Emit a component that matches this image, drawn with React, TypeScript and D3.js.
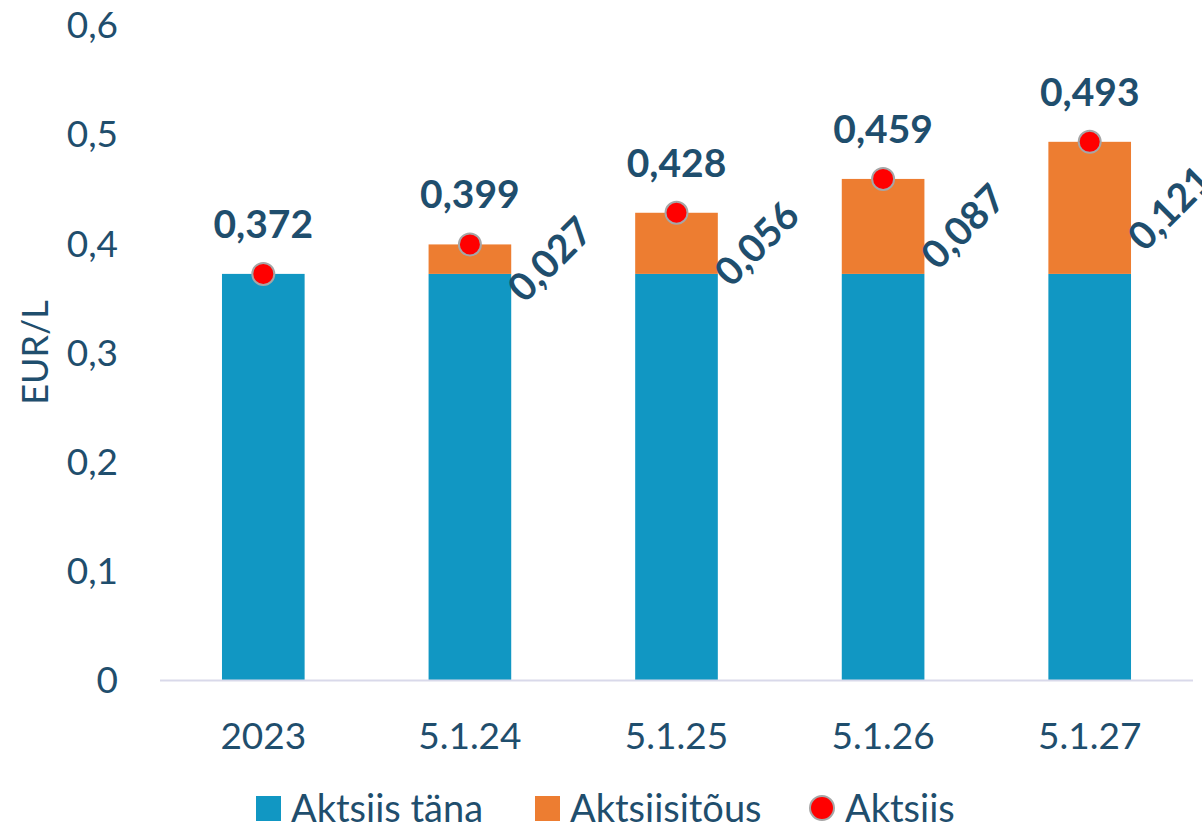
import React from "react";
import * as d3 from "d3";

const categories = ["2023", "5.1.24", "5.1.25", "5.1.26", "5.1.27"];
const baseValues = [0.372, 0.372, 0.372, 0.372, 0.372];
const increaseValues = [0, 0.027, 0.056, 0.087, 0.121];
const totalValues = [0.372, 0.399, 0.428, 0.459, 0.493];
const increaseLabels = ["", "0,027", "0,056", "0,087", "0,121"];
const totalLabels = ["0,372", "0,399", "0,428", "0,459", "0,493"];
const yTicks = [0, 0.1, 0.2, 0.3, 0.4, 0.5, 0.6];
const legendItems = ["Aktsiis täna", "Aktsiisitõus", "Aktsiis"];

const W = 1202;
const H = 825;
const FONT = "Lato, 'Open Sans', sans-serif";
const TEXT = "#1F4E6D";
const BLUE = "#1197C3";
const ORANGE = "#ED7D31";

export default function App() {
  const x = d3.scaleBand<string>().domain(categories).range([160, 1193]).padding(0);
  const y = d3.scaleLinear().domain([0, 0.6]).range([680, 25]);
  const bw = x.bandwidth() * 0.4;
  const fmt = (v: number) => (v === 0 ? "0" : d3.format(".1f")(v).replace(".", ","));

  return (
    <svg width={W} height={H} style={{ position: "absolute", left: 0, top: 0, background: "#fff" }}>
      {yTicks.map((t) => (
        <text key={t} x={118} y={y(t)} dy="0.36em" textAnchor="end" fontFamily={FONT} fontSize={37} fill={TEXT}>
          {fmt(t)}
        </text>
      ))}
      <text
        transform={`translate(48,${y(0.3)}) rotate(-90)`}
        textAnchor="middle"
        fontFamily={FONT}
        fontSize={36}
        fill={TEXT}
      >
        EUR/L
      </text>
      {categories.map((c, i) => {
        const cx = (x(c) as number) + x.bandwidth() / 2;
        return (
          <g key={c}>
            <rect x={cx - bw / 2} y={y(baseValues[i])} width={bw} height={y(0) - y(baseValues[i])} fill={BLUE} />
            {increaseValues[i] > 0 && (
              <rect
                x={cx - bw / 2}
                y={y(baseValues[i] + increaseValues[i])}
                width={bw}
                height={y(baseValues[i]) - y(baseValues[i] + increaseValues[i])}
                fill={ORANGE}
              />
            )}
          </g>
        );
      })}
      <line x1={160} x2={1193} y1={y(0) + 0.5} y2={y(0) + 0.5} stroke="#D9D9EA" strokeWidth={2} />
      {categories.map((c) => (
        <text
          key={c}
          x={(x(c) as number) + x.bandwidth() / 2}
          y={749}
          textAnchor="middle"
          fontFamily={FONT}
          fontSize={37}
          fill={TEXT}
        >
          {c}
        </text>
      ))}
      {categories.map((c, i) => {
        const cx = (x(c) as number) + x.bandwidth() / 2;
        return (
          <g key={c}>
            <circle cx={cx} cy={y(totalValues[i])} r={11} fill="#FF0000" stroke="#A6A6A6" strokeWidth={2} />
            <text
              x={cx}
              y={y(totalValues[i]) - 36}
              textAnchor="middle"
              fontFamily={FONT}
              fontWeight="bold"
              fontSize={39}
              fill={TEXT}
            >
              {totalLabels[i]}
            </text>
            {increaseValues[i] > 0 && (
              <text
                transform={`translate(${cx + 80},${y(baseValues[i] + increaseValues[i] / 2)}) rotate(-45)`}
                textAnchor="middle"
                dy="0.36em"
                fontFamily={FONT}
                fontWeight="bold"
                fontSize={39}
                fill={TEXT}
              >
                {increaseLabels[i]}
              </text>
            )}
          </g>
        );
      })}
      <g>
        <rect x={256} y={796} width={25} height={25} fill={BLUE} />
        <text x={291} y={808} dy="0.36em" fontFamily={FONT} fontSize={38} fill={TEXT}>
          {legendItems[0]}
        </text>
        <rect x={535} y={796} width={25} height={25} fill={ORANGE} />
        <text x={570} y={808} dy="0.36em" fontFamily={FONT} fontSize={38} fill={TEXT}>
          {legendItems[1]}
        </text>
        <circle cx={822} cy={808} r={12} fill="#FF0000" stroke="#A6A6A6" strokeWidth={2} />
        <text x={845} y={808} dy="0.36em" fontFamily={FONT} fontSize={38} fill={TEXT}>
          {legendItems[2]}
        </text>
      </g>
    </svg>
  );
}
